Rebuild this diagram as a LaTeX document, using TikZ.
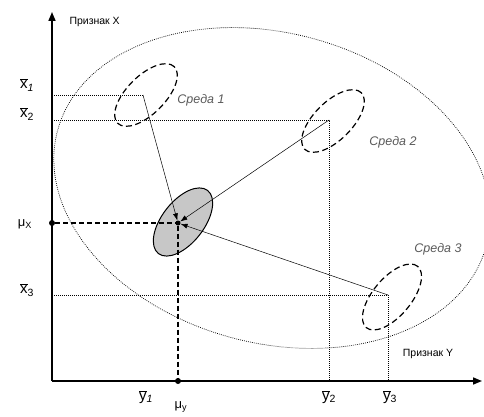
\documentclass[tikz,border=0pt]{standalone}
\usepackage{fontspec}
\setmainfont{Liberation Sans}
\usetikzlibrary{arrows.meta}
\begin{document}
\begin{tikzpicture}[x=1pt,y=1pt,
  axis/.style={line width=1.6pt,-{Triangle[length=9pt,width=7pt]}},
  guide/.style={line width=0.6pt,dash pattern=on 1pt off 1pt},
  meanline/.style={line width=1.3pt,dash pattern=on 5pt off 3pt},
  arr/.style={line width=0.5pt,-{Latex[length=7pt,width=5pt]}},
  env/.style={line width=1.2pt,dash pattern=on 6pt off 3.5pt},
  envlab/.style={font=\fontsize{12.5}{14}\selectfont\itshape,text=black!65},
  lab/.style={font=\fontsize{15}{17}\selectfont},
  mulab/.style={font=\fontsize{13}{15}\selectfont},
  featlab/.style={font=\fontsize{10.5}{12}\selectfont},
  dot/.style={circle,fill=black,inner sep=0pt,minimum size=6pt}]
\useasboundingbox (0,0) rectangle (484,-417);
\begin{scope}
\clip (0,0) rectangle (484,-417);
\draw[line width=0.7pt,dash pattern=on 0.8pt off 1.2pt] (272,-188) ellipse[x radius=222,y radius=155,rotate=-15];
\end{scope}
% coordinates
\coordinate (O) at (52,-381);
\coordinate (Ytop) at (52,-12);
\coordinate (Xend) at (482,-381);
\coordinate (M) at (178,-223);
\coordinate (C1) at (143,-95);
\coordinate (C2) at (329,-120);
\coordinate (C3) at (388,-295);
\coordinate (X1) at (52,-95);
\coordinate (X2) at (52,-120);
\coordinate (X3) at (52,-295);
\coordinate (Y2) at (329,-381);
\coordinate (Y3) at (388,-381);
% gray ellipse
\draw[fill=black!22,line width=1pt] (183,-222) ellipse[x radius=40,y radius=21,rotate=52];
% environments
\draw[env] (146,-95) ellipse[x radius=40,y radius=19,rotate=45];
\draw[env] (333,-121) ellipse[x radius=40,y radius=19,rotate=45];
\draw[env] (392,-297) ellipse[x radius=40,y radius=19,rotate=50];
% guides
\draw[guide] (X1) -- (C1);
\draw[guide] (X2) -- (C2) -- (Y2);
\draw[guide] (X3) -- (C3) -- (Y3);
% axes
\draw[axis] (O) -- (Ytop);
\draw[axis] (O) -- (Xend);
% mean lines
\node[dot] (mux) at (52,-223) {};
\node[dot] (muy) at (178,-381) {};
\node[dot,minimum size=5pt] (m) at (M) {};
\draw[meanline] (mux) -- (m);
\draw[meanline] (m) -- (muy);
% arrows
\draw[arr] (C1) -- (m);
\draw[arr] (C2) -- (m);
\draw[arr] (C3) -- (m);
% labels
\node[featlab,anchor=west] (fx) at (66,-22) {Признак X};
\node[featlab] (fy) at (428,-354) {Признак Y};
\node[envlab] (e1) at (201,-100) {Среда 1};
\node[envlab] (e2) at (393,-142) {Среда 2};
\node[envlab] (e3) at (438,-249) {Среда 3};
\node[lab] (lx1) at (27,-85) {$\overline{\mbox{x}}$\textsubscript{\itshape 1}};
\node[lab] (lx2) at (27,-114) {$\overline{\mbox{x}}$\textsubscript{2}};
\node[lab] (lx3) at (27,-290) {$\overline{\mbox{x}}$\textsubscript{3}};
\node[mulab] (lmx) at (25,-224) {μ\textsubscript{X}};
\node[lab] (ly1) at (146,-397) {$\overline{\mbox{y}}$\textsubscript{\itshape 1}};
\node[mulab] (lmy) at (181,-407) {μ\textsubscript{y}};
\node[lab] (ly2) at (329,-397) {$\overline{\mbox{y}}$\textsubscript{2}};
\node[lab] (ly3) at (390,-397) {$\overline{\mbox{y}}$\textsubscript{3}};
\end{tikzpicture}
\end{document}
